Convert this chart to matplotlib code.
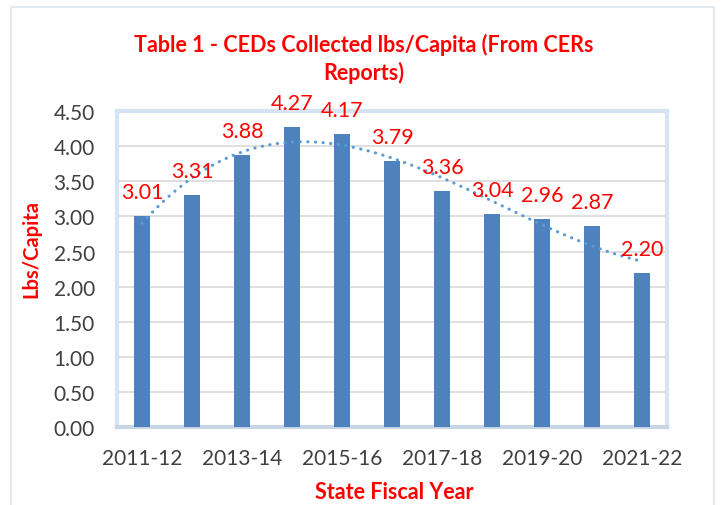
import numpy as np
import matplotlib
matplotlib.use("Agg")
import matplotlib.pyplot as plt
from matplotlib.patches import Rectangle

# data
years = ["2011-12", "2012-13", "2013-14", "2014-15", "2015-16", "2016-17",
         "2017-18", "2018-19", "2019-20", "2020-21", "2021-22"]
lbs_per_capita = [3.01, 3.31, 3.88, 4.27, 4.17, 3.79, 3.36, 3.04, 2.96, 2.87, 2.20]
y_ticks = [0.0, 0.5, 1.0, 1.5, 2.0, 2.5, 3.0, 3.5, 4.0, 4.5]

plt.rcParams["font.family"] = ["Lato", "DejaVu Sans"]
RED = "#FF0000"
GREY = "#404040"

fig = plt.figure(figsize=(7.21, 5.06), dpi=100)
fig.patches.append(Rectangle((0.015, -0.02), 0.975, 1.004, transform=fig.transFigure,
                             fill=False, ec="#E4EAF2", lw=1.5))
ax = fig.add_axes([0.1623, 0.154, 0.763, 0.6245])

x = np.arange(len(years))
ax.bar(x, lbs_per_capita, width=0.32, color="#4F81BD", zorder=3)

# excel-style polynomial trendline (order 3)
coef = np.polyfit(x, lbs_per_capita, 3)
xs = np.linspace(0, len(years) - 1, 200)
ax.plot(xs, np.polyval(coef, xs), color="#5B9BD5", lw=2.2, ls=(0, (0.1, 2.4)),
        dash_capstyle="round", zorder=4)

for xi, v in zip(x, lbs_per_capita):
    ax.annotate(f"{v:.2f}", (xi, v), xytext=(0, 10), textcoords="offset points",
                ha="center", va="bottom", color=RED, fontsize=15.5, zorder=5,
                annotation_clip=False)

ax.set_xlim(-0.5, len(years) - 0.5)
ax.set_ylim(0, 4.5)
ax.set_yticks(y_ticks)
ax.set_yticklabels([f"{t:.2f}" for t in y_ticks])
ax.set_xticks(x[::2])
ax.set_xticklabels(years[::2])
ax.tick_params(axis="y", length=0, labelsize=15, labelcolor=GREY, pad=16)
ax.tick_params(axis="x", length=0, labelsize=15, labelcolor=GREY, pad=15)
ax.yaxis.grid(True, color="#D9D9D9", lw=1.2, zorder=0)
for s in ax.spines.values():
    s.set_color("#D5E3F2")
    s.set_linewidth(3)
ax.spines["bottom"].set_color("#C8D5E3")

fig.text(31 / 721, 1 - 249 / 506, "Lbs/Capita", rotation=90, ha="center", va="center",
         color=RED, fontsize=14.5, fontweight="bold")
fig.text(394 / 721, 1 - 493 / 506, "State Fiscal Year", ha="center", va="center",
         color=RED, fontsize=15.5, fontweight="bold")
fig.text(364 / 721, 1 - 59 / 506, "Table 1 - CEDs Collected lbs/Capita (From CERs\nReports)",
         ha="center", va="center", color=RED, fontsize=15.5, fontweight="bold",
         linespacing=1.3)

fig.savefig("out.png", dpi=100)
